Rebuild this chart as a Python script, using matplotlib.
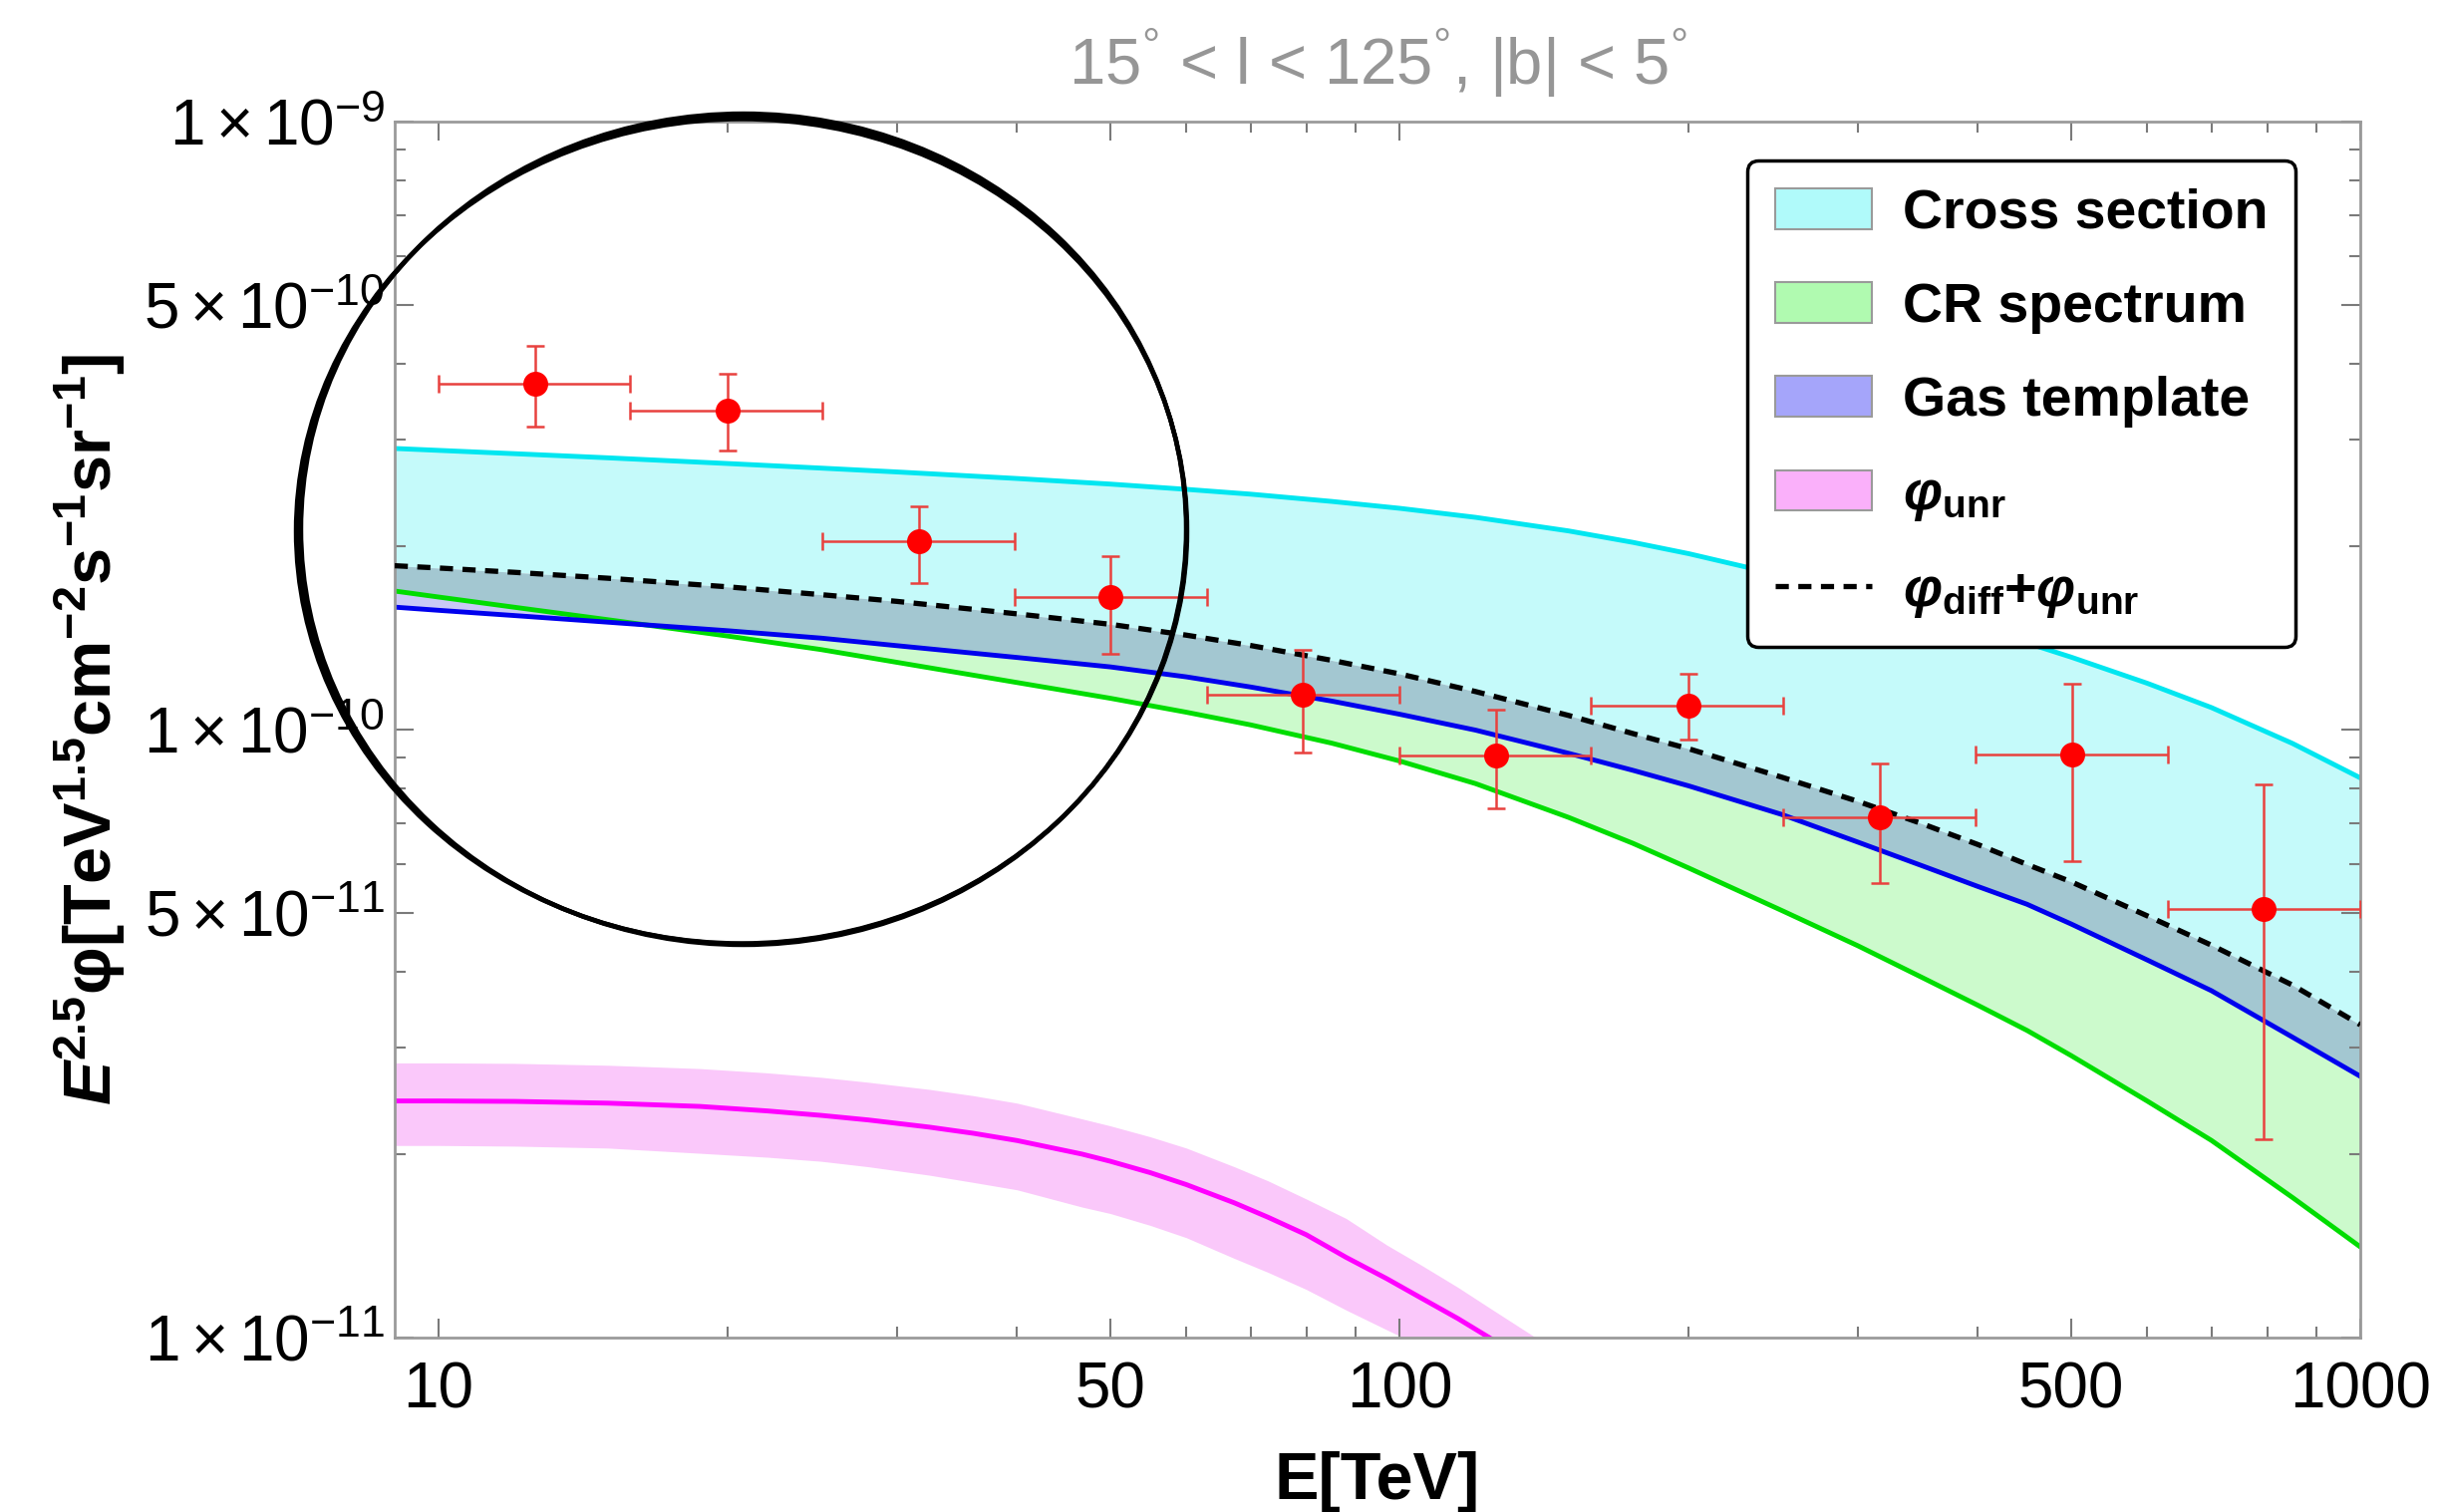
import numpy as np
import matplotlib.pyplot as plt
from matplotlib.patches import Patch, Ellipse
from matplotlib.lines import Line2D
from matplotlib.ticker import FixedLocator, NullFormatter

plt.rcParams['font.family'] = ['Liberation Sans', 'DejaVu Sans']
plt.rcParams['mathtext.fontset'] = 'custom'
plt.rcParams['mathtext.rm'] = 'Liberation Sans'
plt.rcParams['mathtext.it'] = 'Liberation Sans:italic'
plt.rcParams['mathtext.bf'] = 'Liberation Sans:bold'
plt.rcParams['mathtext.bfit'] = 'Liberation Sans:italic:bold'

# model curves, flux in units of 1e-10
E = [9, 10, 12, 15, 20, 25, 30, 40, 50, 60, 70, 85, 100, 120, 150, 175, 200,
     250, 300, 350, 400, 450, 500, 600, 700, 850, 1000]
cross_hi = [2.90, 2.879, 2.843, 2.799, 2.739, 2.692, 2.653, 2.588, 2.534, 2.484, 2.439,
            2.373, 2.312, 2.234, 2.122, 2.032, 1.947, 1.793, 1.663, 1.557, 1.466, 1.388,
            1.316, 1.192, 1.087, 0.949, 0.833]
total = [1.86, 1.844, 1.814, 1.774, 1.717, 1.667, 1.625, 1.55, 1.49, 1.43, 1.375, 1.30,
         1.235, 1.155, 1.055, 0.985, 0.93, 0.835, 0.762, 0.70, 0.647, 0.60, 0.562, 0.494,
         0.442, 0.38, 0.327]
gas_lo = [1.59, 1.571, 1.54, 1.502, 1.454, 1.414, 1.374, 1.314, 1.268, 1.221, 1.175, 1.114,
          1.06, 0.998, 0.914, 0.857, 0.808, 0.725, 0.653, 0.597, 0.552, 0.516, 0.479, 0.418,
          0.372, 0.312, 0.269]
cr_lo = [1.69, 1.652, 1.589, 1.516, 1.425, 1.354, 1.29, 1.195, 1.126, 1.068, 1.018, 0.95,
         0.888, 0.815, 0.717, 0.65, 0.592, 0.504, 0.441, 0.391, 0.352, 0.32, 0.291, 0.245,
         0.211, 0.17, 0.141]

# unresolved sources, units of 1e-11
E_unr = [9, 10, 12, 15, 18.7, 22, 25, 28, 32.4, 36, 40, 46.7, 50, 55, 60, 67.3, 73, 80,
         88, 97, 105, 115, 124, 140, 160]
unr = [2.45, 2.45, 2.446, 2.43, 2.40, 2.359, 2.32, 2.28, 2.219, 2.168, 2.109, 2.004, 1.95,
       1.868, 1.785, 1.666, 1.577, 1.476, 1.355, 1.25, 1.165, 1.075, 1.0, 0.885, 0.765]
unr_hi = [2.83, 2.83, 2.825, 2.805, 2.77, 2.725, 2.68, 2.63, 2.56, 2.50, 2.43, 2.29, 2.23,
          2.14, 2.05, 1.91, 1.81, 1.69, 1.57, 1.42, 1.32, 1.21, 1.12, 0.99, 0.85]
unr_lo = [2.07, 2.07, 2.065, 2.05, 2.01, 1.98, 1.95, 1.91, 1.85, 1.80, 1.75, 1.64, 1.60,
          1.53, 1.46, 1.35, 1.28, 1.20, 1.11, 1.03, 0.97, 0.89, 0.83, 0.72, 0.62]

# measured points, units of 1e-10
E_pts = [12.6, 20, 31.6, 50, 79.4, 126, 200, 316, 501, 794]
E_lo = [10, 15.8, 25.1, 39.8, 63.1, 100, 158, 251, 398, 631]
E_hi = [15.8, 25.1, 39.8, 63.1, 100, 158, 251, 398, 631, 1000]
flux = [3.70, 3.35, 2.04, 1.65, 1.14, 0.908, 1.094, 0.718, 0.91, 0.506]
flux_hi = [4.28, 3.85, 2.33, 1.93, 1.35, 1.08, 1.236, 0.879, 1.19, 0.811]
flux_lo = [3.15, 2.88, 1.74, 1.33, 0.917, 0.742, 0.962, 0.56, 0.608, 0.212]

y_major = [1e-11, 5e-11, 1e-10, 5e-10, 1e-9]
y_labels = [r'$1\times10^{-11}$', r'$5\times10^{-11}$', r'$1\times10^{-10}$',
            r'$5\times10^{-10}$', r'$1\times10^{-9}$']
x_major = [10, 50, 100, 500, 1000]
x_labels = ['10', '50', '100', '500', '1000']

W, H = 2448, 1517
fig = plt.figure(figsize=(W / 100, H / 100), dpi=100)
ax = fig.add_axes([396 / W, 1 - 1342 / H, (2368 - 396) / W, (1342 - 122) / H])

E = np.array(E)
cross_hi = np.array(cross_hi) * 1e-10
total = np.array(total) * 1e-10
gas_lo = np.array(gas_lo) * 1e-10
cr_lo = np.array(cr_lo) * 1e-10

# bands
ax.fill_between(E, total, cross_hi, color='#C5FAFA', lw=0, zorder=1)
ax.fill_between(E, np.maximum(cr_lo, gas_lo), total, color='#A3C7D1', lw=0, zorder=1)
ax.fill_between(E, cr_lo, gas_lo, where=cr_lo <= gas_lo, interpolate=True,
                color='#CCFACC', lw=0, zorder=1)
ax.fill_between(E, gas_lo, cr_lo, where=cr_lo > gas_lo, interpolate=True,
                color='#C9C9F6', lw=0, zorder=1)
ax.fill_between(E_unr, np.array(unr_lo) * 1e-11, np.array(unr_hi) * 1e-11,
                color='#FAC8FA', lw=0, zorder=1)

ax.plot(E, cross_hi, color='#00E6F0', lw=3.5, zorder=2)
ax.plot(E, cr_lo, color='#00DD00', lw=3.5, zorder=2)
ax.plot(E, gas_lo, color='#0000EE', lw=3.5, zorder=2)
ax.plot(E, total, color='black', lw=3.8, dashes=(2.5, 1.8), zorder=3)
ax.plot(E_unr, np.array(unr) * 1e-11, color='#FF00FF', lw=3.5, zorder=2)

# data points
E_pts = np.array(E_pts)
flux = np.array(flux) * 1e-10
xerr = [E_pts - np.array(E_lo), np.array(E_hi) - E_pts]
yerr = [flux - np.array(flux_lo) * 1e-10, np.array(flux_hi) * 1e-10 - flux]
ax.errorbar(E_pts, flux, xerr=xerr, yerr=yerr, fmt='none', ecolor='#E8413E',
            elinewidth=1.8, capsize=6.5, capthick=1.8, zorder=5)
ax.plot(E_pts, flux, 'o', color='red', ms=17, zorder=6)

ax.set_xscale('log')
ax.set_yscale('log')
ax.set_xlim(9, 1000)
ax.set_ylim(1e-11, 1e-9)

ax.set_xticks(x_major)
ax.set_xticklabels(x_labels)
ax.xaxis.set_minor_locator(FixedLocator([20, 30, 40, 60, 70, 80, 90, 200, 300, 400, 600, 700, 800, 900]))
ax.xaxis.set_minor_formatter(NullFormatter())
ax.set_yticks(y_major)
ax.set_yticklabels(y_labels)
ax.yaxis.set_minor_locator(FixedLocator([k * 10.0 ** n for n in (-11, -10) for k in (2, 3, 4, 6, 7, 8, 9)]))
ax.yaxis.set_minor_formatter(NullFormatter())

ax.tick_params(which='both', direction='in', top=True, right=True, color='#7a7a7a', width=1.5)
ax.tick_params(which='major', length=14)
ax.tick_params(which='minor', length=8)
ax.tick_params(axis='x', labelsize=46, pad=17)
ax.tick_params(axis='y', labelsize=46, pad=7)
for s in ax.spines.values():
    s.set_color('#9a9a9a')
    s.set_linewidth(2)

ax.set_xlabel('E[TeV]', fontsize=48, fontweight='bold', labelpad=22)
ax.set_ylabel(r'$\mathbfit{E}^{\mathbf{2.5}}\mathbf{\varphi[TeV}^{\mathbf{1.5}}\mathbf{cm}^{\mathbf{-2}}'
              r'\mathbf{s}^{\mathbf{-1}}\mathbf{sr}^{\mathbf{-1}}\mathbf{]}$', fontsize=48, labelpad=12)
ax.set_title(r'15$^{\degree}$ < l < 125$^{\degree}$, |b| < 5$^{\degree}$', fontsize=47,
             color='#969696', pad=26)

handles = [Patch(facecolor='#B0FAFA', edgecolor='#9a9a9a', lw=1.5),
           Patch(facecolor='#B0FAB0', edgecolor='#9a9a9a', lw=1.5),
           Patch(facecolor='#A5A5FA', edgecolor='#9a9a9a', lw=1.5),
           Patch(facecolor='#FAB0FA', edgecolor='#9a9a9a', lw=1.5),
           Line2D([], [], color='black', lw=3.8, dashes=(2.5, 1.8))]
labels = ['Cross section', 'CR spectrum', 'Gas template',
          r'$\mathbfit{\varphi}_{\mathbf{unr}}$',
          r'$\mathbfit{\varphi}_{\mathbf{diff}}\mathbf{+}\mathbfit{\varphi}_{\mathbf{unr}}$']
leg = ax.legend(handles, labels, loc='upper left', bbox_to_anchor=(1753 / W, 1 - 161 / H),
                bbox_transform=fig.transFigure, prop={'size': 40, 'weight': 'bold'},
                frameon=True, fancybox=True, framealpha=1, edgecolor='black',
                borderpad=0.5, labelspacing=0.76, handlelength=1.75, handleheight=0.75,
                handletextpad=0.55, borderaxespad=0)
leg.get_frame().set_linewidth(2.5)
leg.set_zorder(10)

# hand-drawn circle annotation on top of everything
ov = fig.add_axes([0, 0, 1, 1], zorder=20)
ov.set_xlim(0, W)
ov.set_ylim(H, 0)
ov.axis('off')
circle_strokes = [(745, 532, 891, 830), (746, 531, 888, 834), (744, 533, 894, 827)]
for cx, cy, w, h in circle_strokes:
    ov.add_patch(Ellipse((cx, cy), w, h, fill=False, color='black', lw=3.2))

fig.savefig('out.png', dpi=100)
